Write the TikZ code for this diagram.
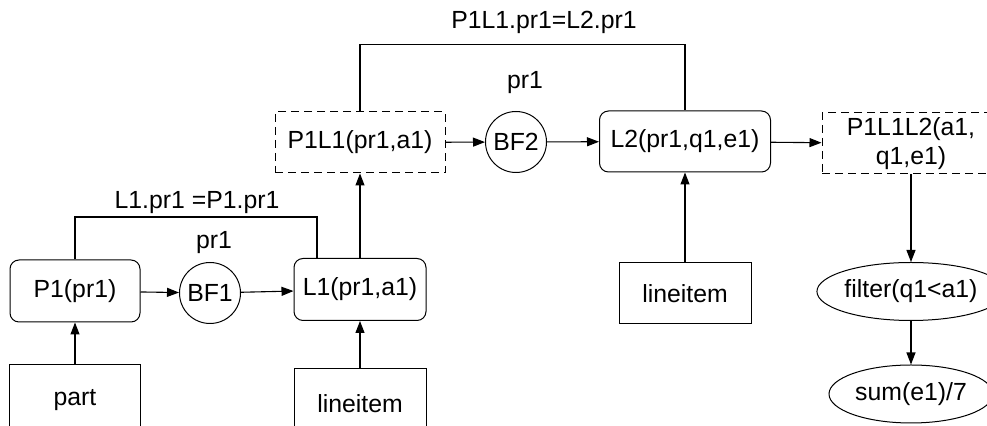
\documentclass[tikz,border=0pt]{standalone}
\usepackage{fontspec}
\setmainfont{Liberation Sans}
\usetikzlibrary{arrows.meta,positioning,shapes.geometric}
\tikzset{
  rel/.style={draw,rounded corners=4.5pt,inner sep=0pt,minimum width=65pt,minimum height=31pt,align=center},
  tmp/.style={draw,dash pattern=on 4pt off 2.5pt,inner sep=0pt,minimum width=85pt,minimum height=30.5pt,align=center},
  bf/.style={draw,circle,inner sep=0pt,minimum size=30.5pt},
  tab/.style={draw,inner sep=0pt,minimum width=65.5pt,minimum height=30.5pt},
  op/.style={draw,ellipse,inner sep=0pt,minimum width=82pt,minimum height=29pt},
  flow/.style={-{Triangle[length=6pt,width=4.5pt]},line width=.55pt},
  cond/.style={line width=.55pt},
}

\begin{document}
\begin{tikzpicture}[x=.5pt,y=-.5pt,line width=.5pt,font=\fontsize{12.4}{14.5}\selectfont]
  \clip (0,0) rectangle (987,426);
  % lower join
  \node[rel] (p1) at (75,291) {P1(pr1)};
  \node[bf] (bf1) at (210,293) {BF1};
  \node[rel,minimum width=66pt] (l1) at (360,289.5) {L1(pr1,a1)};
  \node[tab,minimum height=35pt] (part) at (75,400) {part};
  \node[tab,minimum width=66pt,minimum height=35pt] (li1) at (360,404) {lineitem};
  \node (pr1a) at (214,243) {pr1};
  % upper join
  \node[tmp] (p1l1) at (360,142.5) {P1L1(pr1,a1)};
  \node[bf] (bf2) at (516,142) {BF2};
  \node[rel,minimum width=85.5pt,minimum height=30.5pt] (l2) at (685,141.5) {L2(pr1,q1,e1)};
  \node[tab,minimum width=66pt] (li2) at (685,293.5) {lineitem};
  \node (pr1b) at (525,83) {pr1};
  % result
  \node[tmp,minimum width=89pt] (p1l1l2) at (911,143.5) {P1L1L2(a1,\\q1,e1)};
  \node[op] (filter) at (911,291.5) {filter(q1<a1)};
  \node[op] (sum) at (911,394) {sum(e1)/7};

  \coordinate (j1) at (317,217);
  \draw[cond] (p1.north) |- (j1) -- (j1 |- l1.north);
  \node (c1) at (197,203) {L1.pr1 =P1.pr1};
  \draw[cond] (p1l1.north) -- ++(0,-67) -| (l2.north);
  \node (c2) at (544,22) {P1L1.pr1=L2.pr1};

  \draw[flow] (part) -- (p1);
  \draw[flow] (li1) -- (l1);
  \draw[flow] (p1) -- (bf1);
  \draw[flow] (bf1) -- (l1);
  \draw[flow] (l1) -- (p1l1);
  \draw[flow] (p1l1) -- (bf2);
  \draw[flow] (bf2) -- (l2);
  \draw[flow] (li2) -- (l2);
  \draw[flow] (l2) -- (p1l1l2);
  \draw[flow] (p1l1l2) -- (filter);
  \draw[flow] (filter) -- (sum);
\end{tikzpicture}
\end{document}
